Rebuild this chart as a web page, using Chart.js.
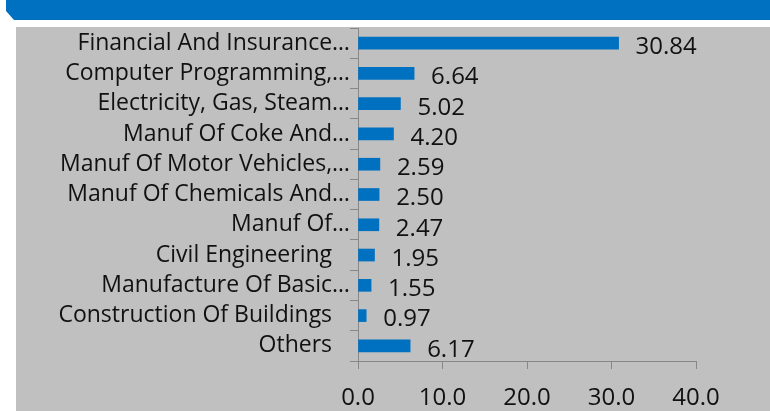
<!DOCTYPE html>
<html><head><meta charset="utf-8">
<script src="https://cdn.jsdelivr.net/npm/chart.js@4/dist/chart.umd.min.js"></script>
<style>
html,body{margin:0;padding:0;background:#fff;width:770px;height:411px;overflow:hidden;}
#hdr{position:absolute;left:0;top:0;width:770px;height:20px;background:#0070c0;clip-path:polygon(0 0,770px 0,770px 20px,14px 20px,6px 11px,6px 0);}
#wrap{position:absolute;left:16px;top:27px;width:754px;height:384px;background:#c0c0c0;}
</style></head>
<body>
<div id="hdr"></div>
<div id="wrap"><canvas id="c" width="754" height="384"></canvas></div>
<script>
const categories = ["Financial And Insurance…","Computer Programming,…","Electricity, Gas, Steam…","Manuf Of Coke And…","Manuf Of Motor Vehicles,…","Manuf Of Chemicals And…","Manuf Of…","Civil Engineering","Manufacture Of Basic…","Construction Of Buildings","Others"];
const values = [30.84, 6.64, 5.02, 4.20, 2.59, 2.50, 2.47, 1.95, 1.55, 0.97, 6.17];
const xTicks = [0, 10, 20, 30, 40];

const FONT = "'Open Sans', Lato, sans-serif";
const valueLabels = {
  id: 'valueLabels',
  afterDatasetsDraw(chart) {
    const ctx = chart.ctx;
    const meta = chart.getDatasetMeta(0);
    ctx.save();
    ctx.font = "24px " + FONT;
    ctx.fillStyle = "#111";
    ctx.textAlign = "left";
    ctx.textBaseline = "middle";
    meta.data.forEach((bar, i) => {
      ctx.fillText(values[i].toFixed(2), bar.x + 17, bar.y + 4);
    });
    ctx.restore();
  }
};

new Chart(document.getElementById('c'), {
  type: 'bar',
  data: { labels: categories, datasets: [{ data: values, backgroundColor: '#0070c0', barThickness: 12 }] },
  options: {
    indexAxis: 'y',
    responsive: false,
    animation: false,
    layout: { padding: { top: 1, right: 74, left: 0, bottom: 0 } },
    plugins: { legend: { display: false }, tooltip: { enabled: false } },
    scales: {
      x: {
        min: 0, max: 40,
        afterBuildTicks: (s) => { s.ticks = xTicks.map(v => ({ value: v })); },
        afterFit: (s) => { s.height = 50; s.paddingLeft = 0; },
        grid: { drawOnChartArea: false, drawTicks: true, tickLength: 8, color: '#878787' },
        border: { color: '#878787' },
        ticks: { color: '#111', font: { size: 24, family: FONT }, padding: 15, maxRotation: 0, autoSkip: false, callback: (v) => Number(v).toFixed(1) }
      },
      y: {
        afterFit: (s) => { s.width = 342; s.paddingTop = 0; s.paddingBottom = 0; },
        grid: { drawOnChartArea: false, drawTicks: true, tickLength: 8, color: '#878787' },
        border: { color: '#878787' },
        ticks: { color: '#111', font: { size: 23, family: FONT }, padding: 0, autoSkip: false,
          callback: function(v, i) { const l = categories[i]; return l.endsWith('…') ? l : l + '   '; } }
      }
    }
  },
  plugins: [valueLabels]
});
</script>
</body></html>
